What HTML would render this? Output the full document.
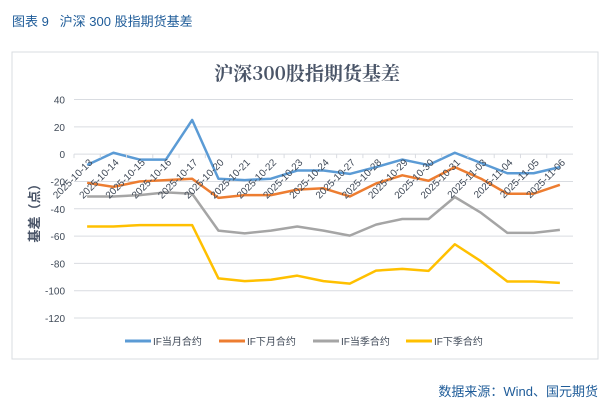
<!DOCTYPE html>
<html><head><meta charset="utf-8"><style>
body{margin:0;width:614px;height:416px;background:#fff;overflow:hidden;font-family:"Liberation Sans","Noto Sans CJK SC",sans-serif}
</style></head><body>
<div style="position:absolute;left:12px;top:11px;font-size:13px;color:#1f5c99">图表 9&nbsp;&nbsp;&nbsp;沪深 300 股指期货基差</div>
<svg id="c" width="614" height="416" style="position:absolute;left:0;top:0">
<rect x="12" y="52" width="586" height="307" fill="#fff" stroke="#d9dce1"/>
<text x="307" y="80" text-anchor="middle" font-family="'Noto Serif CJK SC',serif" font-weight="bold" font-size="19" fill="#4a5568">沪深300股指期货基差</text>
<text x="0" y="0" transform="translate(39,210) rotate(-90)" text-anchor="middle" font-size="13" font-weight="bold" fill="#4a5568">基差（点）</text>
<g id="grid"></g><g id="lines"></g><g id="xl"></g>
<text x="598" y="396" text-anchor="end" font-size="13" fill="#1f5c99">数据来源：Wind、国元期货</text>
</svg>
<script>
const categories=["2025-10-13","2025-10-14","2025-10-15","2025-10-16","2025-10-17","2025-10-20","2025-10-21","2025-10-22","2025-10-23","2025-10-24","2025-10-27","2025-10-28","2025-10-29","2025-10-30","2025-10-31","2025-11-03","2025-11-04","2025-11-05","2025-11-06"];
const seriesNames=["IF当月合约","IF下月合约","IF当季合约","IF下季合约"];
const seriesColors=["#5b9bd5","#ed7d31","#a5a5a5","#ffc000"];
const ifCurrentMonth=[-8,1,-4,-4,25,-18,-19,-18,-12,-12,-14.5,-9.5,-4,-8,1,-6.5,-14,-14,-9.5];
const ifNextMonth=[-21,-24,-20,-19,-18,-32,-30,-30,-26,-25,-31,-21.5,-15.5,-19.5,-9.5,-18,-29,-29,-22.5];
const ifCurrentQuarter=[-31,-31,-30,-28,-29,-56,-58,-56,-53,-56,-59.7,-51.6,-47.5,-47.5,-31.4,-43,-57.7,-57.7,-55.5];
const ifNextQuarter=[-53,-53,-52,-52,-52,-91,-93,-92,-89,-93,-94.8,-85.3,-84,-85.5,-66,-78.5,-93.3,-93.3,-94.3];
const yTicks=[40,20,0,-20,-40,-60,-80,-100,-120];
const NS="http://www.w3.org/2000/svg";
const x0=74,x1=573,y40=99.5,yM120=318;
const yS=v=>y40+(40-v)*(yM120-y40)/160;
const bw=(x1-x0)/categories.length;
const xS=i=>x0+bw*(i+0.5);
function mk(t,a,p){const e=document.createElementNS(NS,t);for(const k in a)e.setAttribute(k,a[k]);p.appendChild(e);return e;}
const grid=document.getElementById('grid');
yTicks.forEach(v=>{
 const l=mk('line',{x1:x0,x2:x1,y1:yS(v),y2:yS(v),stroke:'#d9dce1','stroke-width':1},grid);
 
 
 const t=mk('text',{x:65,y:yS(v)+4,'text-anchor':'end','font-size':10,fill:'#404a58'},grid);
 t.textContent=v;
 
 
});
const xl=document.getElementById('xl');
categories.forEach((c,i)=>{
 const tk=mk('line',{x1:x0+bw*i,x2:x0+bw*i,y1:yS(0),y2:yS(0)+4,stroke:'#d9dce1'},xl);
 
 
 const t=mk('text',{x:0,y:0,'text-anchor':'end','font-size':10,fill:'#404a58',transform:`translate(${xS(i)+6},${yS(0)+9}) rotate(-45)`},xl);
 t.textContent=c;
 
 
});
const lines=document.getElementById('lines');
[ifCurrentMonth,ifNextMonth,ifCurrentQuarter,ifNextQuarter].forEach((s,k)=>{
 const p=mk('polyline',{points:s.map((v,i)=>xS(i)+','+yS(v)).join(' '),fill:'none',stroke:seriesColors[k],'stroke-width':2.5,'stroke-linejoin':'round'},lines);
 
 
});
const legX=[125,219,313,406];
seriesNames.forEach((n,k)=>{
 const l=mk('line',{x1:legX[k],x2:legX[k]+26,y1:341,y2:341,stroke:seriesColors[k],'stroke-width':3},lines);
 
 
 const t=mk('text',{x:legX[k]+28,y:345,'font-size':10,fill:'#404a58'},lines);
 t.textContent=n;
 
 
});
</script>
</body></html>
